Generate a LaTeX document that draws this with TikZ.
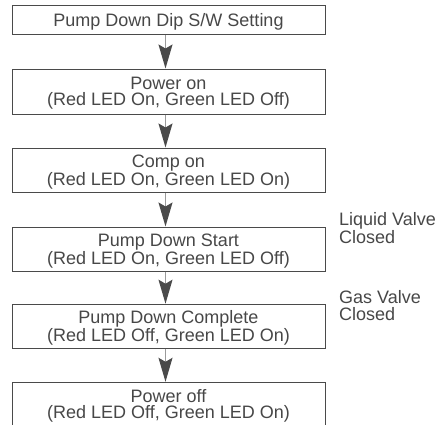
\documentclass[tikz,border=0pt]{standalone}
\usepackage{fontspec}
\setmainfont{Liberation Sans}
\usetikzlibrary{arrows.meta}
\definecolor{txt}{HTML}{474747}
\definecolor{frame}{HTML}{4A4A4A}
\definecolor{conn}{HTML}{9A9A9A}
\definecolor{head}{HTML}{4A4A4A}
\begin{document}
\begin{tikzpicture}[x=1pt,y=-1pt,
  box/.style={draw=frame, line width=1pt, minimum width=313pt, inner sep=0pt,
    align=center, text=txt, text depth=0pt, font=\fontsize{18}{16.3}\selectfont},
  side/.style={anchor=base west, align=left, text=txt, inner sep=0pt,
    font=\fontsize{18}{16.7}\selectfont},
  flow/.style={draw=conn, line width=1.3pt,
    -{Stealth[length=24pt,width=14pt,inset=4pt,color=head]}}]
\useasboundingbox (0,0) rectangle (442,424);
\clip (0,0) rectangle (442,424);
\node[box, minimum height=29.5pt] (b1) at (168.5,19.75) {Pump Down Dip S/W Setting};
\node[box, minimum height=45pt] (b2) at (168.5,91.5) {Power on\\(Red LED On, Green LED Off)};
\node[box, minimum height=44pt] (b3) at (168.5,170) {Comp on\\(Red LED On, Green LED On)};
\node[box, minimum height=44pt] (b4) at (168.5,249) {Pump Down Start\\(Red LED On, Green LED Off)};
\node[box, minimum height=44pt] (b5) at (168.5,326.2) {Pump Down Complete\\(Red LED Off, Green LED On)};
\node[box, minimum height=44pt] (b6) at (168.5,404.3) {Power off\\(Red LED Off, Green LED On)};
\foreach \a/\b in {b1/b2,b2/b3,b3/b4,b4/b5,b5/b6}
  \draw[flow] ([xshift=-3pt]\a.south) -- ([xshift=-3pt]\b.north);
\node[side] (lv) at (339,243) {Liquid Valve\\Closed};
\node[side] (gv) at (339,320) {Gas Valve\\Closed};
\end{tikzpicture}
\end{document}
